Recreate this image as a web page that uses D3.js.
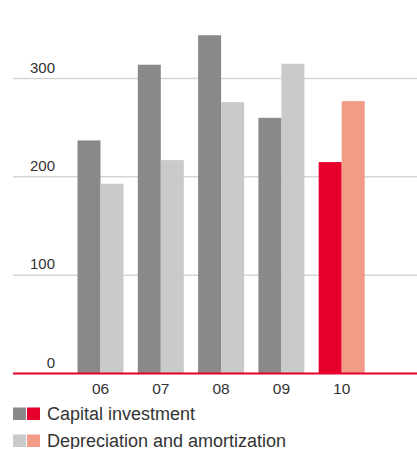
<!DOCTYPE html>
<html>
<head>
<meta charset="utf-8">
<script src="https://cdn.jsdelivr.net/npm/d3@7"></script>
<style>
  html, body { margin: 0; padding: 0; background: #fff; }
  svg text { font-family: "Liberation Sans", Arial, Helvetica, sans-serif; }
</style>
</head>
<body>
<svg id="chart" width="417" height="449"></svg>
<script>
// Years and the two series (in millions)
const years = ["06", "07", "08", "09", "10"];
const capitalInvestment = [237, 314, 344, 260, 215];
const depreciation = [193, 217, 276, 315, 277];
const yTicks = [0, 100, 200, 300];
const legendLabels = ["Capital investment", "Depreciation and amortization"];

const colors = {
  capital: "#898989",
  depreciation: "#c9cacc",
  capitalCurrent: "#e4002b",
  depreciationCurrent: "#f29c88",
  grid: "#d6d6d6",
  baseline: "#e4002b",
  text: "#333333"
};

const svg = d3.select("#chart");
const plotLeft = 13, plotRight = 417, plotBottom = 373.5;

const y = d3.scaleLinear().domain([0, 300]).range([plotBottom, 78.5]);
const x = d3.scaleBand().domain(years).range([77.5, 364.7]).paddingInner(0.237).paddingOuter(0);
const xs = d3.scaleBand().domain(["capital", "depreciation"]).range([0, x.bandwidth()]);

// gridlines
svg.append("g").selectAll("line")
  .data(yTicks.filter(d => d > 0))
  .join("line")
  .attr("x1", plotLeft).attr("x2", plotRight)
  .attr("y1", d => y(d)).attr("y2", d => y(d))
  .attr("stroke", colors.grid).attr("stroke-width", 1.5);

// y tick labels sit above their gridlines
svg.append("g").selectAll("text")
  .data(yTicks)
  .join("text")
  .attr("x", 55).attr("y", d => y(d) - 6)
  .attr("text-anchor", "end")
  .attr("font-size", 15)
  .attr("fill", colors.text)
  .text(d => d);

const last = years.length - 1;
const rows = years.map((yr, i) => ({ yr, i, capital: capitalInvestment[i], depreciation: depreciation[i] }));

const groups = svg.append("g").selectAll("g")
  .data(rows)
  .join("g")
  .attr("transform", d => `translate(${x(d.yr)},0)`);

groups.append("rect")
  .attr("x", xs("capital")).attr("width", xs.bandwidth())
  .attr("y", d => y(d.capital)).attr("height", d => y(0) - y(d.capital))
  .attr("fill", d => d.i === last ? colors.capitalCurrent : colors.capital);

groups.append("rect")
  .attr("x", xs("depreciation")).attr("width", xs.bandwidth())
  .attr("y", d => y(d.depreciation)).attr("height", d => y(0) - y(d.depreciation))
  .attr("fill", d => d.i === last ? colors.depreciationCurrent : colors.depreciation);

// baseline
svg.append("line")
  .attr("x1", plotLeft).attr("x2", plotRight)
  .attr("y1", y(0)).attr("y2", y(0))
  .attr("stroke", colors.baseline).attr("stroke-width", 2);

// x labels
svg.append("g").selectAll("text")
  .data(years)
  .join("text")
  .attr("x", d => x(d) + x.bandwidth() / 2)
  .attr("y", 394)
  .attr("text-anchor", "middle")
  .attr("font-size", 15.5)
  .attr("fill", colors.text)
  .text(d => d);

// legend
const legendSwatches = [
  [colors.capital, colors.capitalCurrent],
  [colors.depreciation, colors.depreciationCurrent]
];
const legend = svg.append("g").selectAll("g")
  .data(legendLabels)
  .join("g")
  .attr("transform", (d, i) => `translate(13,${407.5 + i * 27})`);

legend.each(function (d, i) {
  const g = d3.select(this);
  legendSwatches[i].forEach((c, j) => {
    g.append("rect").attr("x", j * 14).attr("y", 0).attr("width", 13).attr("height", 12.5).attr("fill", c);
  });
  g.append("text")
    .attr("x", 34).attr("y", 12.5)
    .attr("font-size", 18)
    .attr("fill", colors.text)
    .text(d);
});
</script>
</body>
</html>
